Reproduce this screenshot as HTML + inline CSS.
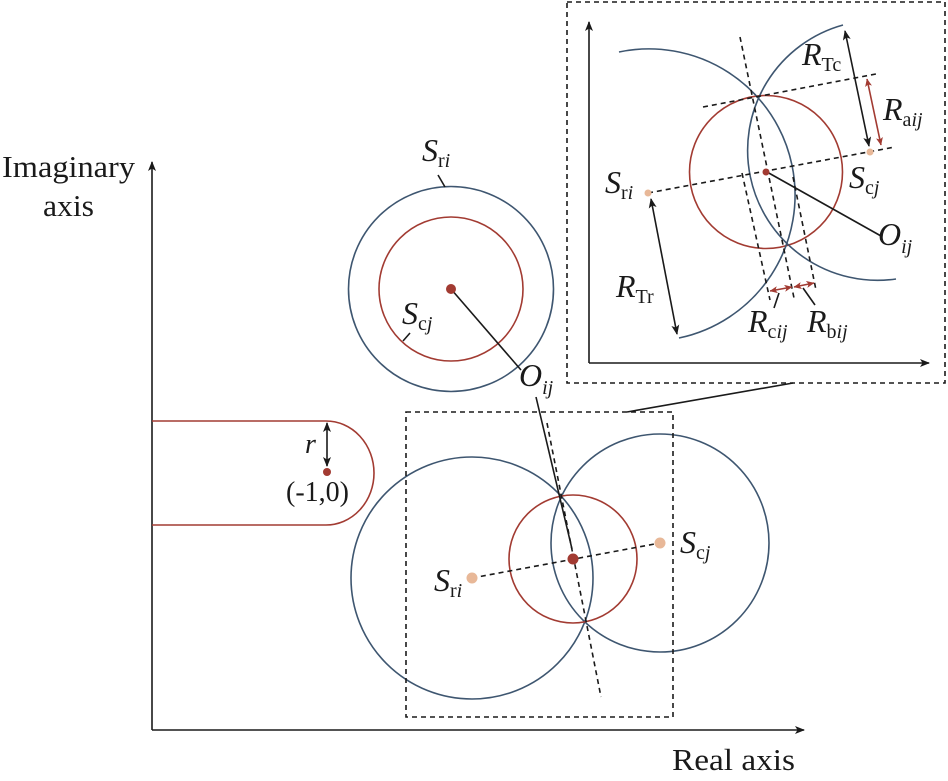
<!DOCTYPE html>
<html><head><meta charset="utf-8"><style>
html,body{margin:0;padding:0;background:#fff;}
svg{display:block;}
text{font-family:"Liberation Serif",serif;fill:#1a1a1a;}
.i{font-style:italic;}
</style></head><body>
<svg width="948" height="781" viewBox="0 0 948 781" xmlns="http://www.w3.org/2000/svg">
<defs>
<marker id="ak" markerWidth="10" markerHeight="8" refX="9" refY="4" orient="auto" markerUnits="userSpaceOnUse"><path d="M0,0 L10,4 L0,8 L2.5,4 z" fill="#1a1a1a"/></marker>
<marker id="ar" markerWidth="8" markerHeight="7" refX="7.5" refY="3.5" orient="auto" markerUnits="userSpaceOnUse"><path d="M0,0 L8,3.5 L0,7 L2,3.5 z" fill="#a23b32"/></marker>
<marker id="aks" markerWidth="10" markerHeight="8" refX="1" refY="4" orient="auto" markerUnits="userSpaceOnUse"><path d="M10,0 L0,4 L10,8 L7.5,4 z" fill="#1a1a1a"/></marker>
<marker id="ars" markerWidth="8" markerHeight="7" refX="0.5" refY="3.5" orient="auto" markerUnits="userSpaceOnUse"><path d="M8,0 L0,3.5 L8,7 L6,3.5 z" fill="#a23b32"/></marker>
</defs>
<g fill="none" stroke-width="1.6">
<line x1="152" y1="730" x2="152" y2="162" stroke="#1a1a1a" marker-end="url(#ak)"/>
<line x1="152" y1="730" x2="804" y2="730" stroke="#1a1a1a" marker-end="url(#ak)"/>
<path d="M152,421 L326,421 A48,52 0 0 1 326,525 L152,525" stroke="#a23b32"/>
<line x1="327" y1="466" x2="327" y2="423" stroke="#1a1a1a" marker-end="url(#ak)" marker-start="url(#aks)"/>
<circle cx="451" cy="289" r="102.5" stroke="#3e5670"/>
<circle cx="451" cy="289" r="72" stroke="#a23b32"/>
<line x1="451" y1="289" x2="521" y2="370" stroke="#1a1a1a"/>
<line x1="438" y1="175" x2="445" y2="187" stroke="#1a1a1a"/>
<line x1="403" y1="341" x2="410" y2="333" stroke="#1a1a1a"/>
<circle cx="472" cy="578" r="121" stroke="#3e5670"/>
<circle cx="660" cy="543" r="109" stroke="#3e5670"/>
<circle cx="573" cy="559" r="64" stroke="#a23b32"/>
<line x1="472" y1="578" x2="660" y2="543" stroke="#1a1a1a" stroke-dasharray="5,4"/>
<line x1="547" y1="423" x2="601" y2="697" stroke="#1a1a1a" stroke-dasharray="5,4"/>
<line x1="536" y1="397" x2="572" y2="549" stroke="#1a1a1a"/>
<rect x="406" y="412" width="267" height="305" stroke="#1a1a1a" stroke-dasharray="5,4"/>
<line x1="627" y1="412" x2="793" y2="383" stroke="#1a1a1a"/>
<rect x="567" y="2" width="378" height="381" stroke="#1a1a1a" stroke-dasharray="5,4"/>
<line x1="589" y1="363" x2="589" y2="22" stroke="#1a1a1a" marker-end="url(#ak)"/>
<line x1="589" y1="363" x2="929" y2="363" stroke="#1a1a1a" marker-end="url(#ak)"/>
<circle cx="766" cy="172" r="76.5" stroke="#a23b32"/>
<path d="M619,52 A145,145 0 0 1 679,338" stroke="#3e5670"/>
<path d="M843,25 A130,130 0 0 0 896,279" stroke="#3e5670"/>
<line x1="648" y1="193" x2="895" y2="147" stroke="#1a1a1a" stroke-dasharray="5,4"/>
<line x1="703" y1="107" x2="876" y2="74" stroke="#1a1a1a" stroke-dasharray="5,4"/>
<line x1="740" y1="37" x2="794" y2="298" stroke="#1a1a1a" stroke-dasharray="5,4"/>
<line x1="742" y1="173" x2="770" y2="300" stroke="#1a1a1a" stroke-dasharray="5,4"/>
<line x1="793" y1="177" x2="816" y2="290" stroke="#1a1a1a" stroke-dasharray="5,4"/>
<line x1="767" y1="172" x2="881" y2="236" stroke="#1a1a1a"/>
<line x1="845" y1="31" x2="869" y2="146" stroke="#1a1a1a" marker-end="url(#ak)" marker-start="url(#aks)"/>
<line x1="867" y1="79" x2="881" y2="145" stroke="#a23b32" marker-end="url(#ar)" marker-start="url(#ars)"/>
<line x1="651" y1="199" x2="677" y2="334" stroke="#1a1a1a" marker-end="url(#ak)" marker-start="url(#aks)"/>
<line x1="770" y1="291" x2="792" y2="287" stroke="#a23b32" marker-end="url(#ar)" marker-start="url(#ars)"/>
<line x1="794" y1="287" x2="814" y2="283" stroke="#a23b32" marker-end="url(#ar)" marker-start="url(#ars)"/>
<line x1="779" y1="293" x2="774" y2="308" stroke="#1a1a1a"/>
<line x1="803" y1="288" x2="815" y2="305" stroke="#1a1a1a"/>
</g>
<circle cx="327" cy="472" r="4" fill="#a23b32"/>
<circle cx="451" cy="289" r="5" fill="#a23b32"/>
<circle cx="573" cy="559" r="5.5" fill="#a23b32"/>
<circle cx="472" cy="578" r="5.5" fill="#e8b898"/>
<circle cx="660" cy="543" r="5.5" fill="#e8b898"/>
<circle cx="766" cy="172" r="3.5" fill="#a23b32"/>
<circle cx="648" cy="193" r="3.5" fill="#e8b898"/>
<circle cx="870" cy="152" r="3.5" fill="#e8b898"/>
<text x="2" y="177" font-size="31" textLength="133" lengthAdjust="spacingAndGlyphs">Imaginary</text>
<text x="43" y="216" font-size="31" textLength="51" lengthAdjust="spacingAndGlyphs">axis</text>
<text x="672" y="770" font-size="31" textLength="123" lengthAdjust="spacingAndGlyphs">Real axis</text>
<text x="305" y="453" font-size="28" class="i">r</text>
<text x="286" y="501" font-size="28">(-1,0)</text>
<text x="422" y="161" font-size="32" class="i">S<tspan font-size="20" font-style="normal" dy="6">r</tspan><tspan font-size="20">i</tspan></text>
<text x="402" y="324" font-size="32" class="i">S<tspan font-size="20" font-style="normal" dy="6">c</tspan><tspan font-size="20">j</tspan></text>
<text x="519" y="386" font-size="32" class="i">O<tspan font-size="20" dy="8">ij</tspan></text>
<text x="434" y="591" font-size="32" class="i">S<tspan font-size="20" font-style="normal" dy="6">r</tspan><tspan font-size="20">i</tspan></text>
<text x="680" y="553" font-size="32" class="i">S<tspan font-size="20" font-style="normal" dy="6">c</tspan><tspan font-size="20">j</tspan></text>
<text x="605" y="193" font-size="32" class="i">S<tspan font-size="20" font-style="normal" dy="6">r</tspan><tspan font-size="20">i</tspan></text>
<text x="849" y="188" font-size="32" class="i">S<tspan font-size="20" font-style="normal" dy="6">c</tspan><tspan font-size="20">j</tspan></text>
<text x="878" y="245" font-size="32" class="i">O<tspan font-size="20" dy="8">ij</tspan></text>
<text x="802" y="65" font-size="32" class="i">R<tspan font-size="20" font-style="normal" dy="6">Tc</tspan></text>
<text x="883" y="120" font-size="32" class="i">R<tspan font-size="20" font-style="normal" dy="6">a</tspan><tspan font-size="20">ij</tspan></text>
<text x="616" y="297" font-size="32" class="i">R<tspan font-size="20" font-style="normal" dy="6">Tr</tspan></text>
<text x="748" y="332" font-size="32" class="i">R<tspan font-size="20" font-style="normal" dy="6">c</tspan><tspan font-size="20">ij</tspan></text>
<text x="807" y="332" font-size="32" class="i">R<tspan font-size="20" font-style="normal" dy="6">b</tspan><tspan font-size="20">ij</tspan></text>
</svg>
</body></html>
